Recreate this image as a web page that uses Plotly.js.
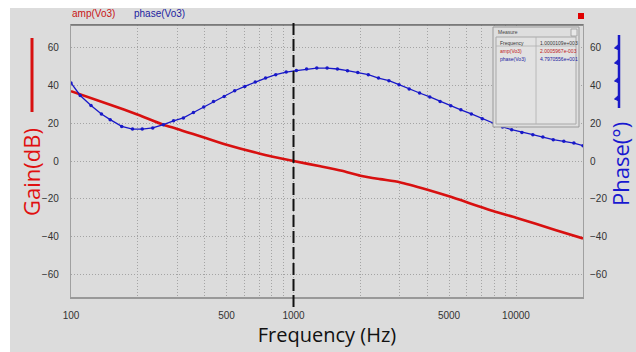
<!DOCTYPE html>
<html>
<head>
<meta charset="utf-8">
<script src="https://cdn.plot.ly/plotly-3.0.1.min.js"></script>
<style>html,body{margin:0;padding:0;background:#fff;}#chart{width:636px;height:352px;}</style>
</head>
<body>
<div id="chart"></div>
<script>
// ---- data ----
const gainFreq = [100, 150, 200, 260, 300, 500, 700, 1000, 1320, 1650, 2000, 2450, 3000, 4000, 5000, 8000, 10000, 15000, 20000];
const gainDb   = [37, 29.8, 24.5, 19.2, 17, 8.6, 4, 0, -2.8, -5.2, -7.8, -9.6, -11.2, -15.2, -18.7, -26.7, -30, -36.5, -41];

const phaseFreq = [100, 110, 123, 137, 150, 169, 189, 209, 233, 260, 289, 320, 355, 395, 437, 488, 544, 604, 673, 749, 832, 927,
  1030, 1145, 1272, 1416, 1575, 1748, 1944, 2168, 2409, 2684, 2980, 3310, 3686, 4098, 4560, 5090, 5650, 6300, 7050,
  7960, 8700, 9560, 10630, 11900, 13200, 14700, 16400, 18200, 20000];
const phaseDeg = [41.3, 34.7, 29.4, 24.9, 21.9, 18.3, 16.9, 16.9, 17.5, 19.2, 21.3, 22.8, 25.7, 28.6, 31.5, 34.2, 37.2, 39.5, 41.8, 43.9, 45.7, 47.1,
  47.9, 48.7, 49.2, 49.2, 48.7, 47.8, 46.9, 45.7, 43.9, 42.5, 40.4, 38.1, 36.0, 33.9, 31.5, 29.3, 27.1, 24.9, 22.4,
  20.1, 18.0, 16.6, 15.1, 13.9, 12.7, 11.3, 10.4, 9.5, 8.1];

const xGridVals = [100,200,300,400,500,600,700,800,900,1000,2000,3000,4000,5000,6000,7000,8000,9000,10000,20000];
const xLabelVals = [100, 500, 1000, 5000, 10000];
const yTickVals = [-60, -40, -20, 0, 20, 40, 60];
const cursorFreq = 1000;
const seriesNames = ['amp(Vo3)', 'phase(Vo3)'];
const measureRows = [['Frequency', '1.0000109e+003'], ['amp(Vo3)', '2.0005967e-003'], ['phase(Vo3)', '4.7970556e+001']];

// ---- layout geometry helpers (pixel -> paper) ----
const L = 71, R = 53, T = 25, B = 55, W = 636, H = 352;
const PW = W - L - R, PH = H - T - B;
const px = v => (v - L) / PW;
const py = v => 1 - (v - T) / PH;

const RED = '#d81010', BLUE = '#1818c8';

const traces = [
  {x: gainFreq, y: gainDb, type: 'scatter', mode: 'lines', name: seriesNames[0],
   line: {color: RED, width: 2.6, shape: 'spline', smoothing: 0.6}, yaxis: 'y', hoverinfo: 'skip'},
  {x: phaseFreq, y: phaseDeg, type: 'scatter', mode: 'lines+markers', name: seriesNames[1],
   line: {color: BLUE, width: 1.3}, marker: {color: BLUE, size: 3.5}, yaxis: 'y2', hoverinfo: 'skip'}
];

const tickFont = {family: 'Liberation Sans, Arial, sans-serif', size: 10, color: '#333'};

const shapes = [
  {type: 'rect', xref: 'paper', yref: 'paper', x0: px(-5), x1: px(10), y0: py(360), y1: py(-5), fillcolor: '#fff', line: {width: 0}, layer: 'below'},
  {type: 'rect', xref: 'paper', yref: 'paper', x0: px(-5), x1: px(645), y0: py(8), y1: py(-5), fillcolor: '#fff', line: {width: 0}, layer: 'below'},
  {type: 'line', xref: 'paper', yref: 'paper', x0: 0, x1: 1, y0: 1, y1: 1, line: {color: '#707070', width: 1.5}},
  {type: 'line', xref: 'x', yref: 'paper', x0: cursorFreq, x1: cursorFreq, y0: py(307), y1: py(22), line: {color: '#111', width: 2, dash: '12px,4px'}},
  {type: 'rect', xref: 'paper', yref: 'paper', x0: px(578), x1: px(584), y0: py(19), y1: py(13), fillcolor: '#e00000', line: {width: 0}},
  {type: 'line', xref: 'paper', yref: 'paper', x0: px(32), x1: px(32), y0: py(112), y1: py(38), line: {color: RED, width: 3}},
  {type: 'line', xref: 'paper', yref: 'paper', x0: px(619), x1: px(619), y0: py(108), y1: py(35), line: {color: BLUE, width: 2.5}},
  {type: 'rect', xref: 'paper', yref: 'paper', x0: px(493), x1: px(579), y0: py(127), y1: py(27), fillcolor: '#dedede', line: {color: '#9a9a9a', width: 1}},
  {type: 'rect', xref: 'paper', yref: 'paper', x0: px(496), x1: px(576), y0: py(124), y1: py(37), fillcolor: '#e2e2e2', line: {color: '#a8a8a8', width: 1}},
  {type: 'rect', xref: 'paper', yref: 'paper', x0: px(571), x1: px(577), y0: py(36), y1: py(29), fillcolor: '#e8e8e8', line: {color: '#999', width: 0.8}},
  {type: 'line', xref: 'paper', yref: 'paper', x0: px(496), x1: px(576), y0: py(46), y1: py(46), line: {color: '#b0b0b0', width: 0.8}},
  {type: 'line', xref: 'paper', yref: 'paper', x0: px(536), x1: px(536), y0: py(124), y1: py(37), line: {color: '#b0b0b0', width: 0.8}}
];
[48, 63, 81, 99].forEach(v => {
  shapes.push({type: 'path', xref: 'paper', yref: 'paper',
    path: `M ${px(619)} ${py(v - 4)} L ${px(614.5)} ${py(v)} L ${px(619)} ${py(v + 2)} Z`,
    fillcolor: BLUE, line: {color: BLUE, width: 1}});
});

const annotations = [
  {text: seriesNames[0], xref: 'paper', yref: 'paper', x: px(70), y: py(14), xanchor: 'left', yanchor: 'middle', showarrow: false,
   font: {family: 'Liberation Sans, Arial, sans-serif', size: 10, color: '#c81414'}},
  {text: seriesNames[1], xref: 'paper', yref: 'paper', x: px(132), y: py(14), xanchor: 'left', yanchor: 'middle', showarrow: false,
   font: {family: 'Liberation Sans, Arial, sans-serif', size: 10, color: '#1c1ca0'}},
  {text: 'Gain(dB)', xref: 'paper', yref: 'paper', x: px(31), y: py(172), textangle: -90, xanchor: 'center', yanchor: 'middle', showarrow: false,
   font: {family: 'Open Sans, sans-serif', size: 22, color: '#e01010'}},
  {text: 'Phase(°)', xref: 'paper', yref: 'paper', x: px(620), y: py(164), textangle: -90, xanchor: 'center', yanchor: 'middle', showarrow: false,
   font: {family: 'Open Sans, sans-serif', size: 22, color: '#1818d0'}},
  {text: 'Measure', xref: 'paper', yref: 'paper', x: px(496), y: py(32), xanchor: 'left', yanchor: 'middle', showarrow: false,
   font: {family: 'Liberation Sans, Arial, sans-serif', size: 5, color: '#444'}}
];
const rowColors = ['#333', '#c02020', '#2020a0'];
measureRows.forEach((r, i) => {
  const yy = py(43 + i * 8);
  annotations.push({text: r[0], xref: 'paper', yref: 'paper', x: px(498), y: yy, xanchor: 'left', yanchor: 'middle', showarrow: false,
    font: {family: 'Liberation Sans, Arial, sans-serif', size: 5, color: rowColors[i]}});
  annotations.push({text: r[1], xref: 'paper', yref: 'paper', x: px(538), y: yy, xanchor: 'left', yanchor: 'middle', showarrow: false,
    font: {family: 'Liberation Sans, Arial, sans-serif', size: 5, color: rowColors[i]}});
});

const layout = {
  width: W, height: H,
  margin: {l: L, r: R, t: T, b: B, pad: 0},
  paper_bgcolor: '#dcdcdc', plot_bgcolor: '#dcdcdc',
  showlegend: false,
  xaxis: {
    type: 'log', range: [Math.log10(100), Math.log10(20000)],
    tickmode: 'array', tickvals: xGridVals,
    ticktext: xGridVals.map(v => xLabelVals.includes(v) ? String(v) : ''),
    showgrid: true, gridcolor: '#a4a4a4', griddash: '1px,2px', gridwidth: 1,
    showline: true, linecolor: '#999', linewidth: 1.5, mirror: true,
    ticks: '', ticklabelstandoff: 8, tickfont: tickFont, zeroline: false, automargin: false,
    title: {text: 'Frequency (Hz)', font: {family: 'Open Sans, sans-serif', size: 20, color: '#111'}, standoff: 5}
  },
  yaxis: {
    range: [-72, 72], tickmode: 'array', tickvals: yTickVals,
    showgrid: true, gridcolor: '#a4a4a4', griddash: '1px,2px', gridwidth: 1,
    showline: true, linecolor: '#a0a0a0', linewidth: 1.2, mirror: true,
    ticks: '', ticklabelstandoff: 9, tickfont: tickFont, zeroline: false, automargin: false
  },
  yaxis2: {
    range: [-72, 72], tickmode: 'array', tickvals: yTickVals, overlaying: 'y', side: 'right',
    showgrid: false, showline: false, ticks: '', ticklabelstandoff: 6, tickfont: tickFont, zeroline: false, automargin: false
  },
  shapes: shapes,
  annotations: annotations
};

Plotly.newPlot('chart', traces, layout, {displayModeBar: false, staticPlot: true});
</script>
</body>
</html>
